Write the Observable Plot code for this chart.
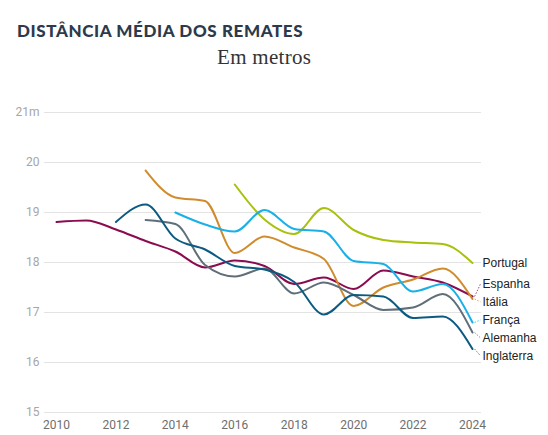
<!DOCTYPE html>
<html>
<head>
<meta charset="utf-8">
<script src="https://cdn.jsdelivr.net/npm/d3@7"></script>
<script src="https://cdn.jsdelivr.net/npm/@observablehq/plot@0.6"></script>
<style>
  body { margin: 0; background: #fff; }
  #wrap { position: relative; width: 548px; height: 435px; overflow: hidden; }
  #head { position: relative; width: 548px; height: 80px; }
  #title { position: absolute; left: 17px; top: 22px; font: 900 17px Lato, sans-serif; line-height: 17px; letter-spacing: 0.6px; color: #2c3a4b; white-space: nowrap; }
  #subtitle { position: absolute; left: 217px; top: 47px; font: 400 21px "Liberation Serif", serif; line-height: 21px; letter-spacing: 0.3px; color: #333; white-space: nowrap; }
</style>
</head>
<body>
<div id="wrap">
  <div id="head">
    <div id="title">DISTÂNCIA MÉDIA DOS REMATES</div>
    <div id="subtitle">Em metros</div>
  </div>
  <div id="chart"></div>
</div>
<script>
// ---- data ----
const years = [2010, 2011, 2012, 2013, 2014, 2015, 2016, 2017, 2018, 2019, 2020, 2021, 2022, 2023, 2024];
const countries = ["Portugal", "Espanha", "Itália", "França", "Alemanha", "Inglaterra"];
const colors = ["#a9c10c", "#8a0c4f", "#d08c2c", "#19b0e8", "#5f6e79", "#0b5a82"];
const portugal   = [null, null, null, null, null, null, 19.56, 18.86, 18.57, 19.09, 18.65, 18.45, 18.40, 18.37, 17.99];
const espanha    = [18.81, 18.84, 18.66, 18.43, 18.22, 17.90, 18.04, 17.93, 17.57, 17.70, 17.47, 17.84, 17.72, 17.60, 17.32];
const italia     = [null, null, null, 19.84, 19.30, 19.23, 18.19, 18.52, 18.30, 18.07, 17.13, 17.50, 17.66, 17.88, 17.27];
const franca     = [null, null, null, null, 19.00, 18.76, 18.62, 19.05, 18.67, 18.62, 18.03, 17.97, 17.42, 17.57, 16.80];
const alemanha   = [null, null, null, 18.85, 18.77, 17.95, 17.72, 17.88, 17.38, 17.60, 17.35, 17.05, 17.10, 17.37, 16.60];
const inglaterra = [null, null, 18.81, 19.16, 18.48, 18.26, 17.93, 17.86, 17.61, 16.96, 17.35, 17.32, 16.89, 16.92, 16.27];
const yTicks = [15, 16, 17, 18, 19, 20, 21];
const xTicks = [2010, 2012, 2014, 2016, 2018, 2020, 2022, 2024];

// ---- build table ----
const seriesValues = [portugal, espanha, italia, franca, alemanha, inglaterra];
const rows = [];
countries.forEach((c, i) => {
  seriesValues[i].forEach((v, j) => { if (v != null) rows.push({country: c, year: years[j], value: v}); });
});

// end labels with simple centered dodge
const gap = 0.36;
const ends = countries.map((c, i) => ({country: c, year: years[years.length - 1], value: seriesValues[i][seriesValues[i].length - 1]}))
  .sort((a, b) => b.value - a.value);
let groups = ends.map(d => ({members: [d], center: d.value}));
let changed = true;
while (changed) {
  changed = false;
  for (let i = 0; i < groups.length - 1; i++) {
    const a = groups[i], b = groups[i + 1];
    const aBottom = a.center - (a.members.length - 1) * gap / 2;
    const bTop = b.center + (b.members.length - 1) * gap / 2;
    if (aBottom - bTop < gap) {
      const members = a.members.concat(b.members);
      groups.splice(i, 2, {members, center: d3.mean(members, d => d.value)});
      changed = true;
      break;
    }
  }
}
groups.forEach(g => g.members.forEach((d, k) => { d.labelY = g.center + ((g.members.length - 1) / 2 - k) * gap; }));
const leaders = ends.filter(d => Math.abs(d.labelY - d.value) > 0.03);

const chart = Plot.plot({
  width: 548,
  height: 355,
  marginTop: 32,
  marginBottom: 23,
  marginLeft: 56,
  marginRight: 76,
  style: {fontFamily: "Roboto, sans-serif", fontSize: "12px", background: "transparent", overflow: "visible"},
  x: {domain: [2010, 2024]},
  y: {domain: [15, 21]},
  color: {domain: countries, range: colors},
  marks: [
    Plot.ruleY(yTicks, {stroke: "#e3e3e3", strokeWidth: 1, insetLeft: -12, insetRight: -9}),
    Plot.axisY({ticks: yTicks, tickSize: 0, tickPadding: 17, label: null, color: "#a6a6a6",
      tickFormat: d => d === 21 ? "21m" : String(d)}),
    Plot.axisX({ticks: xTicks, tickSize: 0, tickPadding: 8, label: null, color: "#6e6e6e", tickFormat: d => String(d)}),
    Plot.line(rows, {x: "year", y: "value", z: "country", stroke: "country", curve: "monotone-x", strokeWidth: 2}),
    Plot.link(leaders, {x1: d => d.year + 0.07, y1: "value", x2: d => d.year + 0.27, y2: "labelY",
      stroke: "country", strokeWidth: 1, strokeDasharray: "1.5,1.5", strokeOpacity: 0.75}),
    Plot.text(ends, {x: "year", y: "labelY", text: "country", dx: 10, textAnchor: "start",
      fill: "#222", fontFamily: "Liberation Sans, Arial, sans-serif", fontSize: 12})
  ]
});
document.getElementById("chart").appendChild(chart);
</script>
</body>
</html>
